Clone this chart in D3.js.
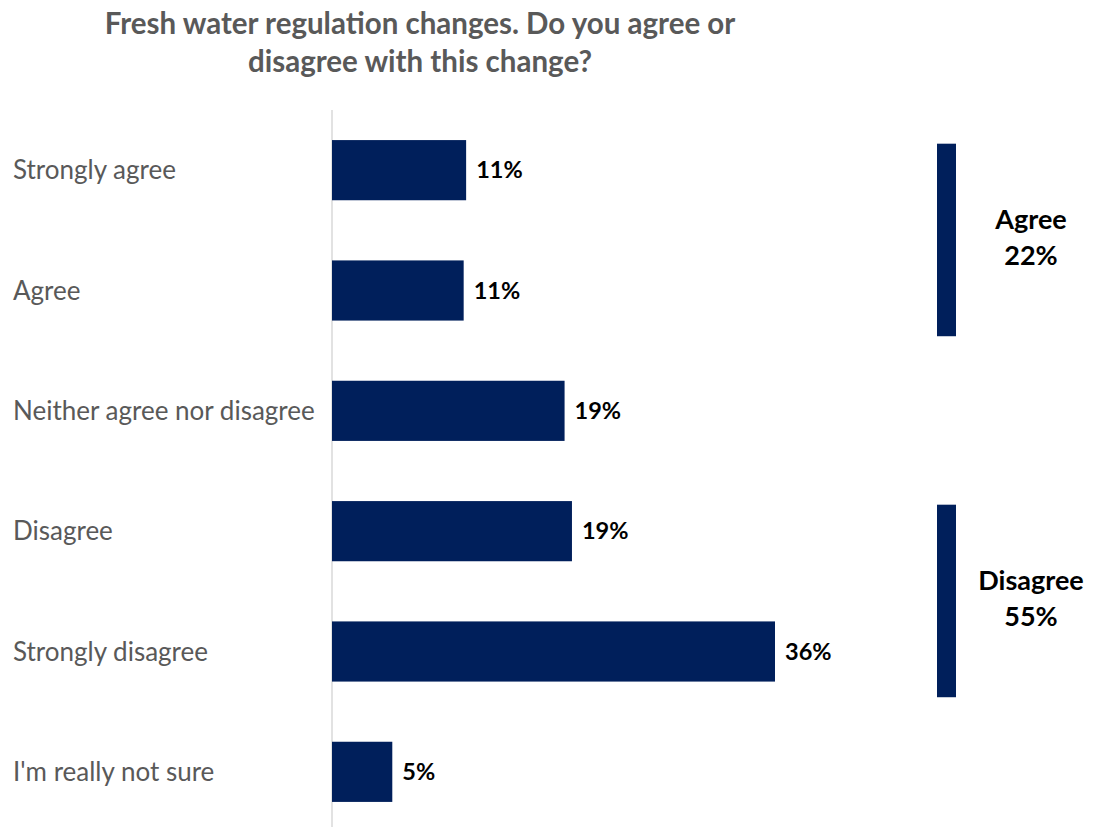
<!DOCTYPE html>
<html>
<head>
<meta charset="utf-8">
<script src="https://cdn.jsdelivr.net/npm/d3@7"></script>
<style>
  body { margin: 0; background: #fff; }
  text { font-family: Lato, "Open Sans", sans-serif; }
</style>
</head>
<body>
<div id="chart"></div>
<script>
// data
const categories = ["Strongly agree", "Agree", "Neither agree nor disagree", "Disagree", "Strongly disagree", "I'm really not sure"];
const values = [10.9, 10.7, 18.9, 19.5, 36, 4.9];
const valueLabels = ["11%", "11%", "19%", "19%", "36%", "5%"];
const groupNames = ["Agree", "Disagree"];
const groupTotals = ["22%", "55%"];
const groupFirst = ["Strongly agree", "Disagree"];
const groupLast = ["Agree", "Strongly disagree"];

const width = 1103, height = 827;
const margin = {top: 110, right: 0, bottom: -5, left: 332};
const navy = "#001F5B";

const svg = d3.select("#chart").append("svg")
    .attr("width", width)
    .attr("height", height);

// title
svg.append("text")
    .attr("x", 420).attr("y", 34)
    .attr("text-anchor", "middle")
    .attr("font-size", 29.5).attr("font-weight", "bold")
    .attr("fill", "#595959")
    .text("Fresh water regulation changes. Do you agree or");
svg.append("text")
    .attr("x", 420).attr("y", 72)
    .attr("text-anchor", "middle")
    .attr("font-size", 29.5).attr("font-weight", "bold")
    .attr("fill", "#595959")
    .text("disagree with this change?");

const x = d3.scaleLinear()
    .domain([0, 36])
    .range([margin.left, 775]);

const y = d3.scaleBand()
    .domain(categories)
    .range([margin.top, height - margin.bottom])
    .paddingInner(0.5)
    .paddingOuter(0.25);

// vertical axis line
svg.append("line")
    .attr("x1", margin.left).attr("x2", margin.left)
    .attr("y1", margin.top).attr("y2", height)
    .attr("stroke", "#d9d9d9")
    .attr("stroke-width", 1.5);

// category labels
svg.append("g")
    .selectAll("text")
    .data(categories)
    .join("text")
    .attr("x", 13)
    .attr("y", d => y(d) + y.bandwidth() / 2)
    .attr("dy", "0.35em")
    .attr("font-size", 26)
    .attr("fill", "#595959")
    .text(d => d);

// bars
svg.append("g")
    .selectAll("rect")
    .data(values)
    .join("rect")
    .attr("x", x(0))
    .attr("y", (d, i) => y(categories[i]))
    .attr("width", d => x(d) - x(0))
    .attr("height", y.bandwidth())
    .attr("fill", navy);

// value labels
svg.append("g")
    .selectAll("text")
    .data(values)
    .join("text")
    .attr("x", d => x(d) + 10)
    .attr("y", (d, i) => y(categories[i]) + y.bandwidth() / 2)
    .attr("dy", "0.35em")
    .attr("font-size", 23.5)
    .attr("font-weight", "bold")
    .attr("fill", "#000")
    .text((d, i) => valueLabels[i]);

// group brackets
const step = y.step();
groupNames.forEach((g, i) => {
    const top = y(groupFirst[i]) - y.paddingInner() * step / 2 + 0.28 * step;
    const bottom = y(groupLast[i]) + y.bandwidth() + y.paddingInner() * step / 2 - 0.12 * step;
    svg.append("rect")
        .attr("x", 937).attr("y", top)
        .attr("width", 19).attr("height", bottom - top)
        .attr("fill", navy);
    const mid = (top + bottom) / 2;
    svg.append("text")
        .attr("x", 1031).attr("y", mid - 11)
        .attr("text-anchor", "middle")
        .attr("font-size", 27).attr("font-weight", "bold")
        .attr("fill", "#000")
        .text(g);
    svg.append("text")
        .attr("x", 1031).attr("y", mid + 25)
        .attr("text-anchor", "middle")
        .attr("font-size", 27).attr("font-weight", "bold")
        .attr("fill", "#000")
        .text(groupTotals[i]);
});
</script>
</body>
</html>
